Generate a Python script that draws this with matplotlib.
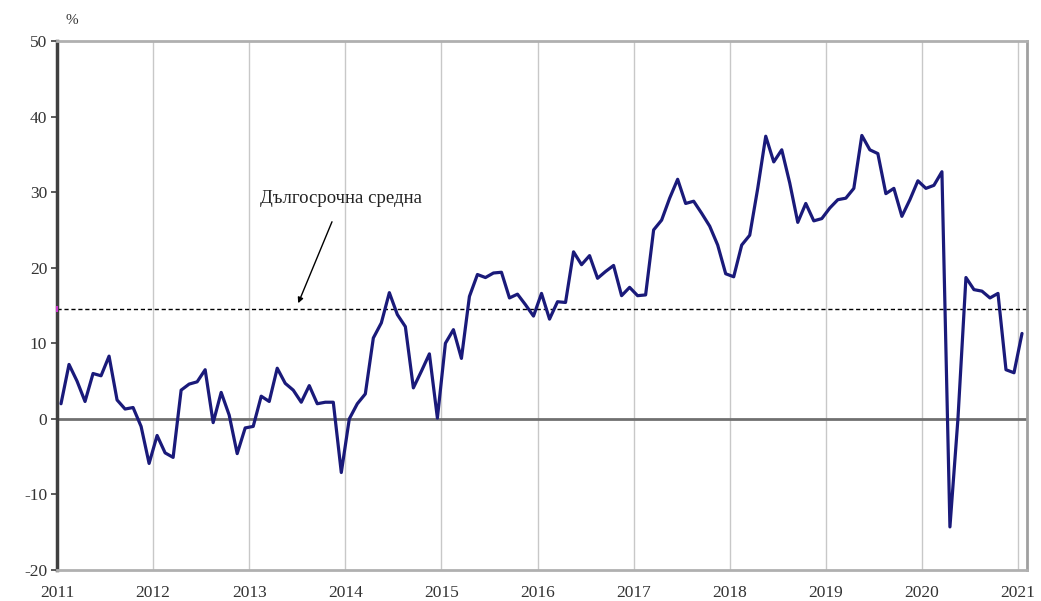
import matplotlib
matplotlib.use("Agg")
import matplotlib.pyplot as plt
import numpy as np

plt.rcParams['font.family'] = ['Liberation Serif', 'DejaVu Serif']

years = list(range(2011, 2022))
year_labels = [str(y) for y in years]

values_2011 = [2.0, 7.2, 5.0, 2.3, 6.0, 5.7, 8.3, 2.5, 1.3, 1.5, -1.0, -5.9]
values_2012 = [-2.2, -4.5, -5.1, 3.8, 4.6, 4.9, 6.5, -0.5, 3.5, 0.5, -4.6, -1.2]
values_2013 = [-1.0, 3.0, 2.3, 6.7, 4.7, 3.8, 2.2, 4.4, 2.0, 2.2, 2.2, -7.1]
values_2014 = [0.0, 2.0, 3.3, 10.7, 12.7, 16.7, 13.8, 12.2, 4.1, 6.3, 8.6, 0.1]
values_2015 = [10.0, 11.8, 8.0, 16.2, 19.1, 18.7, 19.3, 19.4, 16.0, 16.5, 15.1, 13.6]
values_2016 = [16.6, 13.2, 15.5, 15.4, 22.1, 20.4, 21.6, 18.6, 19.5, 20.3, 16.3, 17.4]
values_2017 = [16.3, 16.4, 25.0, 26.3, 29.2, 31.7, 28.5, 28.8, 27.2, 25.5, 23.0, 19.2]
values_2018 = [18.8, 23.0, 24.3, 30.5, 37.4, 34.0, 35.6, 31.2, 26.0, 28.5, 26.2, 26.5]
values_2019 = [27.9, 29.0, 29.2, 30.5, 37.5, 35.6, 35.1, 29.8, 30.5, 26.8, 29.0, 31.5]
values_2020 = [30.5, 30.9, 32.7, -14.3, 0.0, 18.7, 17.1, 16.9, 16.0, 16.6, 6.5, 6.1]
values_2021 = [11.3]

long_term_average = 14.5
annotation_text = "Дългосрочна средна"
y_unit = "%"

series = (values_2011 + values_2012 + values_2013 + values_2014 + values_2015 +
          values_2016 + values_2017 + values_2018 + values_2019 + values_2020 + values_2021)
n = len(series)
x = 2011 + (np.arange(n) + 0.5) / 12.0

fig = plt.figure(figsize=(10.41, 6.01), dpi=100)
ax = fig.add_axes([57/1041, 1 - 570/601, (1027 - 57)/1041, (570 - 41)/601])

ax.set_xlim(2011, 2011 + (1027 - 57) / 96.1)
ax.set_ylim(-20, 50)

for yr in years:
    ax.axvline(yr, color='#c8c8c8', lw=1.0, zorder=0)

ax.axhline(0, color='#707070', lw=2.0, zorder=1)
ax.axhline(long_term_average, color='black', lw=1.0, ls=(0, (3, 2)), zorder=2)
ax.plot([2011.0], [long_term_average], marker='|', color='#cc33cc', ms=4, mew=1.5,
        zorder=3, clip_on=False)

ax.plot(x, series, color='#1a1a7a', lw=2.3, solid_joinstyle='round',
        solid_capstyle='round', zorder=4)

ax.annotate(annotation_text, xy=(2013.51, 15.3), xytext=(2013.96, 29.1),
            ha='center', va='center', fontsize=13.5, color='#222222',
            arrowprops=dict(arrowstyle='-|>', color='black', lw=1.0,
                            mutation_scale=8, shrinkA=9, shrinkB=0))

ax.set_yticks(range(-20, 51, 10))
ax.set_yticklabels([str(v) for v in range(-20, 51, 10)])
ax.set_xticks(years)
ax.set_xticklabels(year_labels)

ax.tick_params(axis='y', direction='out', length=4, width=1.2, color='#404040',
               labelsize=12.5, labelcolor='#333333', pad=3)
ax.tick_params(axis='x', length=0, labelsize=12.5, labelcolor='#333333', pad=11)

ax.spines['left'].set_color('#404040')
ax.spines['left'].set_linewidth(2.5)
ax.spines['top'].set_color('#b0b0b0')
ax.spines['top'].set_linewidth(2.0)
ax.spines['bottom'].set_color('#b0b0b0')
ax.spines['bottom'].set_linewidth(2.0)
ax.spines['right'].set_color('#a0a0a0')
ax.spines['right'].set_linewidth(2.0)

fig.text(72/1041, 1 - 20/601, y_unit, ha='center', va='center', fontsize=11,
         color='#333333')

fig.savefig('out.png', dpi=100, facecolor='white')
